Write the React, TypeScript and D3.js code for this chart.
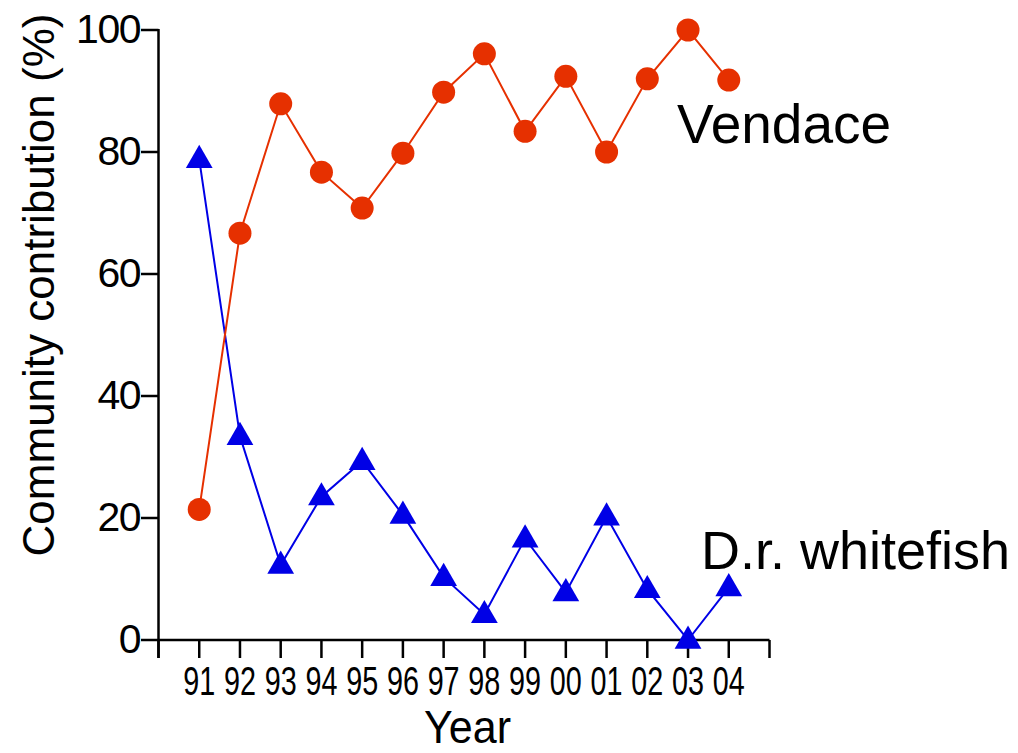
import * as d3 from 'd3';

const years = [91, 92, 93, 94, 95, 96, 97, 98, 99, 100, 101, 102, 103, 104];
const yearLabels = ['91', '92', '93', '94', '95', '96', '97', '98', '99', '00', '01', '02', '03', '04'];
const vendace = [21.4, 66.7, 87.9, 76.7, 70.8, 79.8, 89.8, 96.1, 83.4, 92.4, 80.0, 92.0, 100, 91.8];
const whitefish = [78.8, 33.4, 12.3, 23.5, 29.3, 20.5, 10.3, 4.2, 16.6, 7.8, 20.2, 8.3, 0, 8.6];
const yTicks = [0, 20, 40, 60, 80, 100];

const RED = '#e63000';
const BLUE = '#0000e6';
const FONT = '"Liberation Sans", Arial, sans-serif';

export default function App() {
  const width = 1018;
  const height = 753;

  // plot area in pixels
  const x = d3.scaleLinear().domain([90, 105]).range([158.5, 769.5]);
  const y = d3.scaleLinear().domain([0, 100]).range([640, 30]);

  const line = d3
    .line<number>()
    .x((_, i) => x(years[i]))
    .y((d) => y(d));

  const xTicks = d3.range(90, 106);
  const tri = d3.symbol().type(d3.symbolTriangle).size(310)();

  return (
    <svg
      width={width}
      height={height}
      style={{ position: 'absolute', left: 0, top: 0, background: '#fff' }}
      fontFamily={FONT}
    >
      {/* y axis */}
      <line x1={x(90)} x2={x(90)} y1={y(100) - 1} y2={658} stroke="#000" strokeWidth={2.5} />
      {yTicks.map((t) => (
        <g key={t}>
          <line x1={141} x2={x(90)} y1={y(t)} y2={y(t)} stroke="#000" strokeWidth={2.5} />
          <text x={140} y={y(t) + 13} textAnchor="end" fontSize={41} letterSpacing={-1.5}>
            {t}
          </text>
        </g>
      ))}
      <text
        transform={`translate(54,285) rotate(-90)`}
        textAnchor="middle"
        fontSize={44}
      >
        Community contribution (%)
      </text>

      {/* x axis */}
      <line x1={x(90)} x2={x(105)} y1={y(0)} y2={y(0)} stroke="#000" strokeWidth={2.5} />
      {xTicks.map((t) => (
        <line key={t} x1={x(t)} x2={x(t)} y1={y(0)} y2={658} stroke="#000" strokeWidth={2.5} />
      ))}
      {years.map((yr, i) => (
        <text
          key={yr}
          x={x(yr) - 16}
          y={695}
          fontSize={40}
          textLength={32}
          lengthAdjust="spacingAndGlyphs"
        >
          {yearLabels[i]}
        </text>
      ))}
      <text x={424} y={743} fontSize={46} textLength={87} lengthAdjust="spacingAndGlyphs">
        Year
      </text>

      {/* series */}
      <path d={line(whitefish) || ''} fill="none" stroke={BLUE} strokeWidth={2} />
      <path d={line(vendace) || ''} fill="none" stroke={RED} strokeWidth={2} />
      {whitefish.map((v, i) => (
        <path
          key={'w' + i}
          d={tri || ''}
          transform={`translate(${x(years[i])},${y(v) + 1})`}
          fill={BLUE}
        />
      ))}
      {vendace.map((v, i) => (
        <circle key={'v' + i} cx={x(years[i])} cy={y(v)} r={11.5} fill={RED} />
      ))}

      {/* series labels */}
      <text x={677} y={143} fontSize={55}>
        Vendace
      </text>
      <text x={701} y={569} fontSize={54}>
        D.r. whitefish
      </text>
    </svg>
  );
}
